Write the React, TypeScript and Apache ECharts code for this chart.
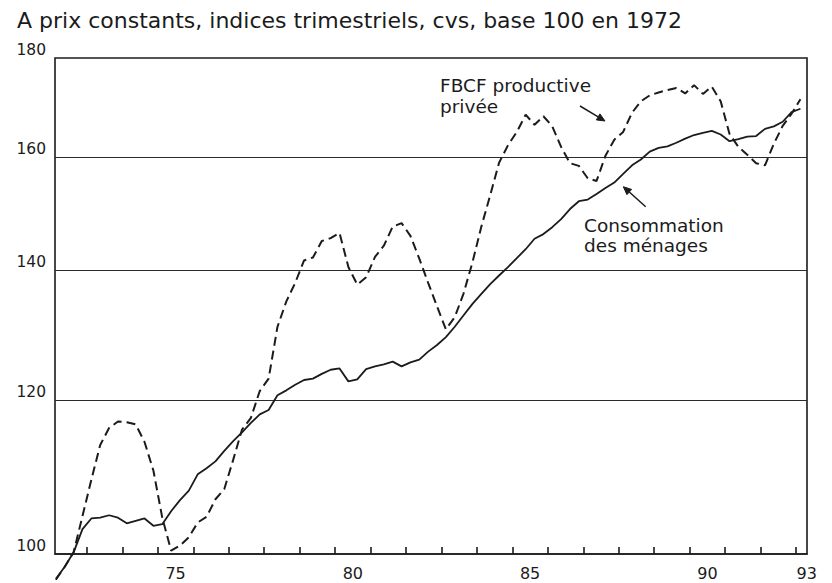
import React, { useEffect, useRef } from "react";
import * as echarts from "echarts";

// Quarterly series, 1972 Q1 .. 1993 Q1 (index 100 = 1972)
const START_YEAR = 1972;

const consommation = [
  97.1, 98.5, 100.2, 103.0, 104.3, 104.4, 104.7, 104.4, 103.7, 104.0,
  104.3, 103.4, 103.6, 105.2, 106.6, 107.8, 109.9, 110.7, 111.6, 113.0,
  114.3, 115.5, 116.8, 118.0, 118.6, 120.7, 121.4, 122.2, 122.9, 123.1,
  123.8, 124.4, 124.6, 122.7, 123.0, 124.5, 124.9, 125.2, 125.6, 124.9,
  125.5, 125.9, 127.1, 128.1, 129.3, 130.9, 132.7, 134.5, 136.1, 137.7,
  139.1, 140.5, 142.0, 143.5, 145.3, 146.1, 147.3, 148.7, 150.5, 151.9,
  152.2, 153.2, 154.3, 155.3, 156.9, 158.5, 159.6, 161.1, 161.8, 162.1,
  162.8, 163.6, 164.3, 164.7, 165.1, 164.4, 163.1, 163.5, 164.0, 164.1,
  165.5, 166.0, 166.9, 168.8, 169.5,
];

const fbcf = [
  97.0, 98.5, 100.2, 104.6, 109.2, 113.8, 116.1, 117.0, 116.9, 116.6,
  114.2, 110.4, 104.4, 100.4, 101.0, 102.0, 103.8, 104.5, 106.7, 108.0,
  111.8, 115.9, 117.5, 121.3, 123.1, 130.9, 134.9, 137.9, 141.6, 142.1,
  144.9, 145.4, 146.3, 140.5, 137.6, 138.8, 142.2, 144.1, 147.4, 148.0,
  145.8, 141.9, 137.9, 134.1, 130.5, 132.4, 136.2, 141.3, 147.4, 153.0,
  159.0, 162.3, 164.9, 168.3, 166.3, 168.0, 166.0, 162.0, 158.9, 158.4,
  156.1, 155.6, 160.3, 163.4, 164.9, 168.7, 171.0, 172.2, 172.8, 173.3,
  173.7, 172.6, 174.3, 172.5, 174.0, 171.0, 164.5, 162.0, 160.5, 158.9,
  158.5, 162.6, 166.1, 168.5, 171.4,
];

const yLabelValues = [100, 120, 140, 160, 180];
const yGridValues = [120, 140, 160];
const xTickYears = [
  1973, 1974, 1975, 1976, 1977, 1978, 1979, 1980, 1981, 1982, 1983,
  1984, 1985, 1986, 1987, 1988, 1989, 1990, 1991, 1992, 1993,
];
const xLabelPositions = [1975.5, 1980.5, 1985.5, 1990.5, 1993.3];
const xLabelTexts = ["75", "80", "85", "90", "93"];

const TITLE = "A prix constants, indices trimestriels, cvs, base 100 en 1972";

const INK = "#1b1b1b";

const toPoints = (vals: number[]) =>
  vals.map((v, i) => [START_YEAR + (i + 0.5) / 4, Math.log10(v)]);

function arrow(x1: number, y1: number, x2: number, y2: number) {
  const dx = x2 - x1;
  const dy = y2 - y1;
  const len = Math.sqrt(dx * dx + dy * dy);
  const ux = dx / len;
  const uy = dy / len;
  const hl = 8;
  const hw = 3.5;
  const bx = x2 - ux * hl;
  const by = y2 - uy * hl;
  const px = -uy * hw;
  const py = ux * hw;
  return [
    {
      type: "line",
      shape: { x1, y1, x2: bx, y2: by },
      style: { stroke: INK, lineWidth: 1.5 },
      silent: true,
    },
    {
      type: "polygon",
      shape: {
        points: [
          [x2, y2],
          [bx + px, by + py],
          [bx - px, by - py],
        ],
      },
      style: { fill: INK, stroke: INK, lineWidth: 1 },
      silent: true,
    },
  ];
}

function label(text: string, x: number, y: number) {
  return {
    type: "text",
    x,
    y,
    silent: true,
    style: {
      text,
      fill: INK,
      fontFamily: "DejaVu Sans",
      fontSize: 18.5,
      align: "left",
      verticalAlign: "middle",
      textAlign: "left",
      textVerticalAlign: "middle",
    },
  };
}

export default function App() {
  const ref = useRef<HTMLDivElement>(null);

  useEffect(() => {
    if (!ref.current) return;
    const chart = echarts.init(ref.current, undefined, { renderer: "svg" });
    const yMin = Math.log10(100);
    const yMax = Math.log10(180);

    chart.setOption({
      animation: false,
      backgroundColor: "#ffffff",
      title: {
        text: TITLE,
        left: 17,
        top: 9,
        padding: 0,
        textStyle: {
          fontFamily: "DejaVu Sans",
          fontSize: 22,
          fontWeight: "normal",
          color: INK,
        },
      },
      grid: {
        left: 55,
        right: 25,
        top: 58,
        bottom: 29,
        show: true,
        borderColor: INK,
        borderWidth: 1.6,
        backgroundColor: "transparent",
        outerBoundsMode: "none",
      },
      xAxis: {
        type: "value",
        min: 1972.1,
        max: 1993.31,
        axisLine: { show: true, lineStyle: { color: INK, width: 1.6 } },
        axisTick: {
          show: true,
          inside: true,
          length: 7,
          customValues: xTickYears,
          lineStyle: { color: INK, width: 1.6 },
        },
        axisLabel: {
          customValues: xLabelPositions,
          formatter: (v: number) => {
            const idx = xLabelPositions.findIndex((p) => Math.abs(p - v) < 0.01);
            return idx >= 0 ? xLabelTexts[idx] : "";
          },
          fontFamily: "DejaVu Sans",
          fontSize: 16,
          color: INK,
          margin: 11,
        },
        splitLine: { show: false },
      },
      yAxis: {
        type: "value",
        min: yMin,
        max: yMax,
        axisLine: { show: false },
        axisTick: {
          show: false,
          customValues: yGridValues.map((v) => Math.log10(v)),
        },
        axisLabel: {
          customValues: yLabelValues.map((v) => Math.log10(v)),
          formatter: (v: number) => String(Math.round(Math.pow(10, v))),
          fontFamily: "DejaVu Sans",
          fontSize: 15.5,
          color: INK,
          margin: 9,
          verticalAlign: "bottom",
        },
        splitLine: { show: true, lineStyle: { color: "#2a2a2a", width: 1.2 } },
      },
      series: [
        {
          name: "FBCF productive privée",
          type: "line",
          data: toPoints(fbcf),
          symbol: "none",
          clip: false,
          z: 3,
          lineStyle: { color: INK, width: 2, type: [9, 5] },
        },
        {
          name: "Consommation des ménages",
          type: "line",
          data: toPoints(consommation),
          symbol: "none",
          clip: false,
          z: 4,
          lineStyle: { color: INK, width: 1.8 },
        },
      ],
      graphic: [
        label("FBCF productive", 440, 85),
        label("privée", 440, 106),
        ...arrow(580, 106, 605, 121),
        label("Consommation", 584, 225),
        label("des ménages", 584, 245),
        ...arrow(645.7, 206.7, 623.3, 186.7),
      ],
    });

    return () => chart.dispose();
  }, []);

  return (
    <div
      ref={ref}
      style={{ position: "absolute", left: 0, top: 0, width: 832, height: 583 }}
    />
  );
}
